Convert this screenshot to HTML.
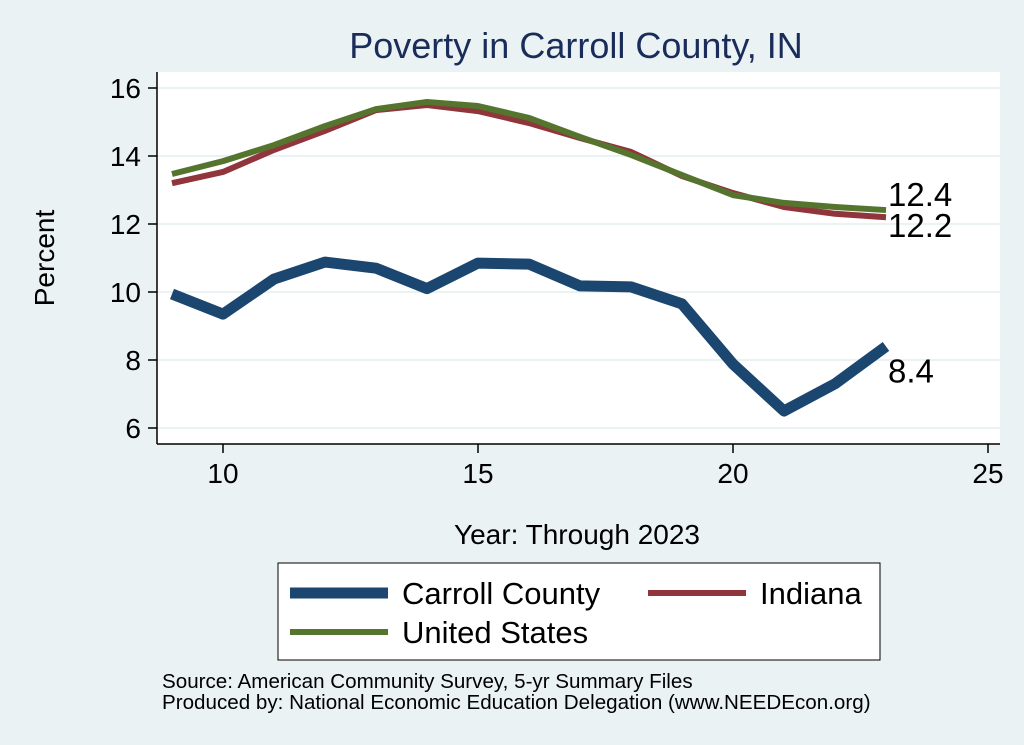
<!DOCTYPE html>
<html><head><meta charset="utf-8"><style>
body{margin:0;background:#eaf2f3;}
svg{display:block;font-family:"Liberation Sans",sans-serif;}
</style></head><body>
<svg id="c" width="1024" height="745">
<rect x="0" y="0" width="1024" height="745" fill="#eaf2f3"/>
<rect x="157" y="72" width="843" height="372" fill="#ffffff"/>
<text x="576" y="58" font-size="36" fill="#1a2d5a" text-anchor="middle">Poverty in Carroll County, IN</text>
<g id="grid"></g>
<g id="series"></g>
<line x1="157" y1="72" x2="157" y2="444" stroke="#000" stroke-width="1.5"/>
<line x1="157" y1="444" x2="1000" y2="444" stroke="#000" stroke-width="1.5"/>
<g id="axes"></g>
<text x="54" y="258" font-size="28" text-anchor="middle" transform="rotate(-90 54 258)">Percent</text>
<text x="577" y="544" font-size="28" text-anchor="middle">Year: Through 2023</text>
<g>
<rect x="278" y="563" width="602" height="97" fill="#fff" stroke="#000" stroke-width="1"/>
<line x1="290" y1="593" x2="388" y2="593" stroke="#1a4670" stroke-width="11"/>
<text x="402" y="604" font-size="31">Carroll County</text>
<line x1="648" y1="593" x2="746" y2="593" stroke="#90353b" stroke-width="6"/>
<text x="760" y="604" font-size="31">Indiana</text>
<line x1="290" y1="632" x2="388" y2="632" stroke="#55752f" stroke-width="6"/>
<text x="402" y="643" font-size="31">United States</text>
</g>
<text x="162" y="688" font-size="20.6">Source: American Community Survey, 5-yr Summary Files</text>
<text x="162" y="709" font-size="20.6">Produced by: National Economic Education Delegation (www.NEEDEcon.org)</text>
</svg>
<script>
const years=[9,10,11,12,13,14,15,16,17,18,19,20,21,22,23];
const carroll=[9.94,9.35,10.38,10.88,10.7,10.1,10.85,10.82,10.18,10.15,9.65,7.88,6.5,7.3,8.4];
const indiana=[13.2,13.53,14.18,14.74,15.35,15.5,15.32,14.97,14.53,14.12,13.41,12.91,12.5,12.3,12.2];
const us=[13.47,13.85,14.32,14.88,15.38,15.59,15.47,15.12,14.56,14.03,13.44,12.85,12.62,12.5,12.41];
const xTicks=[10,15,20,25];
const yTicks=[6,8,10,12,14,16];
const NS='http://www.w3.org/2000/svg';
const X=v=>223+(v-10)*51;
const Y=v=>88+(16-v)*34;
const grid=document.getElementById('grid'),axes=document.getElementById('axes'),ser=document.getElementById('series');
function mk(tag,attrs,parent){const e=document.createElementNS(NS,tag);for(const k in attrs)e.setAttribute(k,attrs[k]);parent.appendChild(e);return e;}
yTicks.forEach(t=>{
 const g=mk('line',{x1:157,x2:1000,y1:Y(t),y2:Y(t),stroke:'#eaf2f3','stroke-width':2},grid);
 
 
 const tk=mk('line',{x1:148,x2:157,y1:Y(t),y2:Y(t),stroke:'#000','stroke-width':1.5},axes);
 
 
 const tx=mk('text',{x:141,y:Y(t)+10,'font-size':28,'text-anchor':'end'},axes);
 tx.textContent=t;
 
 
});
xTicks.forEach(t=>{
 const tk=mk('line',{x1:X(t),x2:X(t),y1:444,y2:453,stroke:'#000','stroke-width':1.5},axes);
 
 
 const tx=mk('text',{x:X(t),y:483,'font-size':28,'text-anchor':'middle'},axes);
 tx.textContent=t;
 
 
});
function line(vals,color,w,name){
 const p=mk('polyline',{points:vals.map((v,i)=>X(years[i])+','+Y(v)).join(' '),fill:'none',stroke:color,'stroke-width':w,'stroke-linejoin':'round'},ser);
 
 
}
line(indiana,'#90353b',6,'indiana-line');
line(us,'#55752f',6,'us-line');
line(carroll,'#1a4670',11,'carroll-line');
function lab(vals,dy,name){
 const v=vals[vals.length-1];
 const t=mk('text',{x:X(years[years.length-1])+2,y:Y(v)+dy,'font-size':33},ser);
 t.textContent=v.toFixed(1);
 
 
}
lab(us,-4,'us-end-label');
lab(indiana,20,'indiana-end-label');
lab(carroll,36,'carroll-end-label');
</script>
</body></html>
